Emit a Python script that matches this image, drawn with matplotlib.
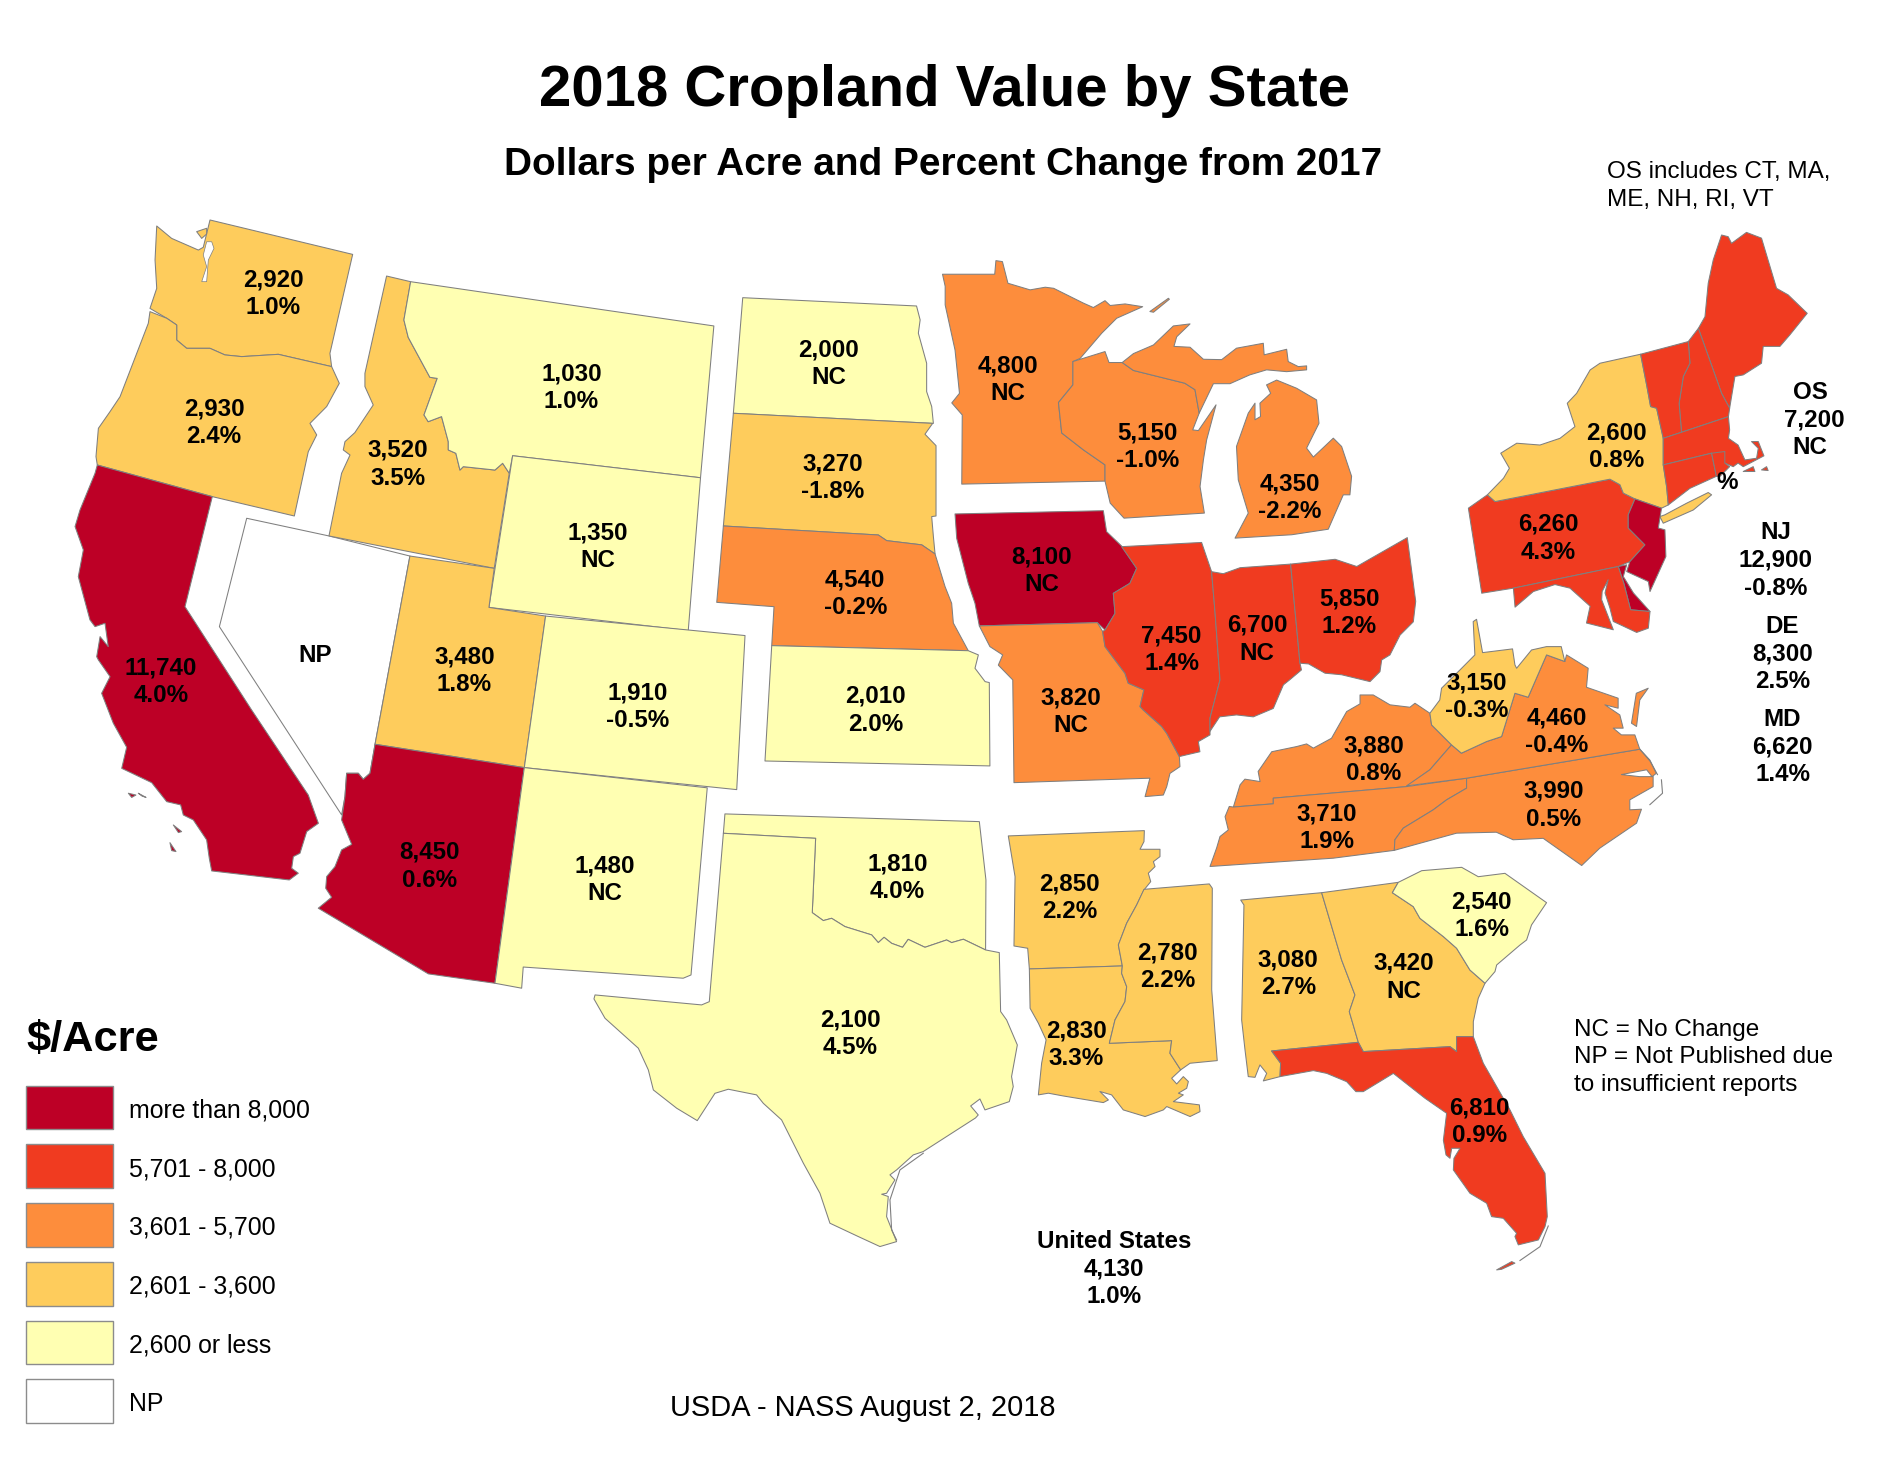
import numpy as np
import matplotlib
matplotlib.use("Agg")
import matplotlib.pyplot as plt
from matplotlib.patches import Polygon, Rectangle

plt.rcParams["font.family"] = ["Liberation Sans", "DejaVu Sans"]

# values
states = ["WA", "OR", "CA", "NV", "ID", "MT", "WY", "UT", "AZ", "CO", "NM", "ND", "SD", "NE",
          "KS", "OK", "TX", "MN", "IA", "MO", "AR", "LA", "WI", "IL", "MI", "IN", "OH", "KY",
          "TN", "MS", "AL", "GA", "FL", "SC", "NC", "VA", "WV", "PA", "NY", "NJ", "DE", "MD"]
values = [2920, 2930, 11740, None, 3520, 1030, 1350, 3480, 8450, 1910, 1480, 2000, 3270, 4540,
          2010, 1810, 2100, 4800, 8100, 3820, 2850, 2830, 5150, 7450, 4350, 6700, 5850, 3880,
          3710, 2780, 3080, 3420, 6810, 2540, 3990, 4460, 3150, 6260, 2600, 12900, 8300, 6620]
changes = ["1.0%", "2.4%", "4.0%", "", "3.5%", "1.0%", "NC", "1.8%", "0.6%", "-0.5%", "NC", "NC",
           "-1.8%", "-0.2%", "2.0%", "4.0%", "4.5%", "NC", "NC", "NC", "2.2%", "3.3%", "-1.0%",
           "1.4%", "-2.2%", "NC", "1.2%", "0.8%", "1.9%", "2.2%", "2.7%", "NC", "0.9%", "1.6%",
           "0.5%", "-0.4%", "-0.3%", "4.3%", "0.8%", "-0.8%", "2.5%", "1.4%"]
other_states = ["ME", "NH", "VT", "MA", "CT", "RI"]
other_value = 7200

bin_edges = [2600, 3600, 5700, 8000]
bin_colors = ["#ffffb2", "#fecc5c", "#fd8d3c", "#f03b20", "#bd0026"]
legend_labels = ["more than 8,000", "5,701 - 8,000", "3,601 - 5,700", "2,601 - 3,600", "2,600 or less", "NP"]
legend_colors = ["#bd0026", "#f03b20", "#fd8d3c", "#fecc5c", "#ffffb2", "white"]

# label centres on the map, image points (state: x, first line y, second line y)
label_pos = {
    "WA": (227, 231, 254), "OR": (178, 338, 361), "CA": (134, 553, 576), "NV": (262, 543, None),
    "ID": (331, 372, 396), "MT": (475, 309, 332), "WY": (497, 441, 464), "UT": (386, 544, 567),
    "AZ": (357, 706, 730), "CO": (530, 574, 597), "NM": (503, 718, 741), "ND": (689, 289, 312),
    "SD": (692, 384, 407), "NE": (711, 480, 503), "KS": (728, 577, 600), "OK": (746, 716, 739),
    "TX": (707, 846, 869), "MN": (838, 302, 325), "IA": (866, 461, 484), "MO": (890, 578, 601),
    "AR": (889, 733, 756), "LA": (895, 855, 878), "WI": (954, 358, 381), "IL": (974, 527, 550),
    "MI": (1072, 400, 423), "IN": (1045, 518, 541), "OH": (1122, 496, 519), "KY": (1142, 618, 641),
    "TN": (1103, 675, 698), "MS": (971, 790, 813), "AL": (1071, 796, 819), "GA": (1167, 799, 822),
    "FL": (1230, 919, 942), "SC": (1232, 748, 771), "NC": (1292, 656, 679), "VA": (1294, 595, 618),
    "WV": (1228, 566, 589), "PA": (1287, 434, 457), "NY": (1344, 358, 381),
}
side_pos = {"NJ": (1476, 441), "DE": (1482, 519), "MD": (1482, 596)}

# state outlines
outlines = {
    "WA": [[(130.3,187.9),(142.7,198.2),(164.9,207.9),(169,205.6),(174.6,182.9),(293.2,211.5),(274.3,293.8),(275.7,304.8),(231.4,294.6),(201,296.5),(187,295.1),(174.6,289.6),(155.2,289.6),(146.9,282.7),(146.9,270.2),(138.6,264.6),(124.7,256.4),(130.3,239.7),(128.9,216.2)],
           [(163.5,192.6),(171.8,189.8),(171.8,194.6),(167.7,198.2)]],
    "OR": [[(124.7,259.1),(138.6,264.6),(146.9,270.2),(146.9,282.7),(155.2,289.6),(174.6,289.6),(187,295.1),(201,296.5),(231.4,294.6),(275.7,304.8),(282.1,318.7),(271.6,338),(257.7,352),(263.3,361.6),(256.3,375.5),(244.7,429),(176.5,412.9),(80.9,386.6),(79.8,379.6),(81.8,356.1),(91.5,342.2),(99.8,329.8),(123.3,268.8)]],
    "CA": [[(80.9,386.6),(176.5,412.9),(153.8,504.4),(209.2,590.3),(256.3,661),(264.7,684.5),(255,691.4),(249.4,709.4),(243.9,712.2),(242.5,721.9),(248,726),(240.5,731.6),(176,724.1),(174,713.6),(171.8,698.3),(160.7,681.7),(152.4,677.6),(150.2,669.2),(138.6,666.5),(126.1,650.7),(101.2,638.8),(105.3,621.3),(94.2,601.3),(84.5,576.4),(91.5,562.6),(81.8,548.7),(80.4,546),(83.2,529.3),(90,537.6),(87.3,518.2),(79,521),(74.8,515.4),(65.1,479.4),(69.3,457.2),(62.4,437.8),(66.5,424),(79,393.5)],
           [(106.7,659.5),(113,661),(109.5,663)], [(115,659.5),(121.4,663),(118,661.8)],
           [(144.1,685.9),(151,691.4),(148.3,692.2)], [(141.3,700.6),(146.3,708),(142.7,707.2)]],
    "NV": [[(205.1,430.9),(273.5,445.6),(340.8,462.3),(311.8,618.8),(307.6,642.9),(302,647.9),(297.9,642.9),(288.2,642.9),(286.8,662.3),(284,677.5),(182.4,521)]],
    "ID": [[(321.4,229.5),(341.4,234.2),(335.8,266),(339.4,280.5),(357.4,313.7),(363.5,314.6),(352.5,345),(356,350.6),(367.1,346.4),(372.7,367.2),(372.7,374.1),(379,376.9),(382.4,390.8),(385.2,388),(411.5,390.8),(417.9,385.2),(423.4,393.5),(410.9,472.5),(273.5,445.6),(284,393.5),(291,378.3),(285.4,374.1),(286.8,367.2),(295,359.7),(310.3,336.7),(303.4,321.4),(303.4,310.4)]],
    "MT": [[(341.4,234.2),(593.5,271),(582.4,397.2),(426.2,378.9),(423.4,393.5),(417.9,385.2),(411.5,390.8),(385.2,388),(382.4,390.8),(379,376.9),(372.7,374.1),(372.7,367.2),(367.1,346.4),(356,350.6),(352.5,345),(363.5,314.6),(357.4,313.7),(339.4,280.5),(335.8,266)]],
    "WY": [[(426.2,378.9),(582.4,397.2),(572.2,524.3),(406.5,505)]],
    "UT": [[(340.8,462.3),(410.9,472.5),(406.5,505),(453.6,512.2),(435.9,638.2),(311.8,618.8)]],
    "CO": [[(453.6,512.2),(619.4,528.4),(612.5,656.5),(435.9,638.2)]],
    "AZ": [[(311.8,618.8),(435.9,638.2),(411.5,817.5),(356.1,809.7),(264.6,755.1),(275.7,746),(270.8,738.5),(271.6,728.8),(278.5,720.5),(284,706.6),(292.4,702),(284,681.7),(286.8,662.3),(288.2,642.9),(297.9,642.9),(302,647.9),(307.6,642.9)]],
    "NM": [[(435.9,638.2),(588,655),(574.5,810.6),(568,813.3),(435,804),(433.7,821.6),(411.5,817.5)]],
    "ND": [[(617.5,247.5),(762,254.4),(765,266),(763.5,277),(770.4,302),(770.4,325.6),(774.6,338),(776,352),(609.7,343.6)]],
    "SD": [[(609.7,343.6),(775.4,352),(769,361),(778.2,370.5),(778.2,429),(774.6,429.5),(776,446),(777.4,460.6),(766.3,453),(737.2,449.5),(730.2,444.8),(601.4,437.3)]],
    "NE": [[(601.4,437.3),(730.2,444.8),(737.2,449.5),(766.3,453),(777.4,460.6),(785.7,487.7),(791.2,501.6),(792.6,518),(805,541),(641.6,536.8),(643.5,504.4),(595.9,500.8)]],
    "KS": [[(641.6,536.8),(805,541),(813.4,544.5),(810.6,555.6),(819,566.7),(822.5,567.5),(823,636.8),(636,632.7)]],
    "OK": [[(602.7,676.7),(814.2,683.1),(819.7,731.6),(819.4,789.8),(800.9,780.9),(791.2,783.7),(787,781.5),(769,787.6),(755.1,781),(750.4,787.6),(741.3,784.3),(735,779.3),(730.2,783.7),(724.7,777.3),(702.5,770.4),(691.4,763.5),(684.5,765.4),(675.3,758.8),(678.1,697),(601.4,692.8)]],
    "TX": [[(601.4,692.8),(678.1,697),(675.3,758.8),(684.5,765.4),(691.4,763.5),(702.5,770.4),(724.7,777.3),(730.2,783.7),(735,779.3),(741.3,784.3),(750.4,787.6),(755.1,781),(769,787.6),(787,781.5),(791.2,783.7),(800.9,780.9),(819.4,789.8),(830.8,792),(831.9,841),(836.9,848),(845.8,868.8),(841,895.1),(842.4,903.4),(839.1,915.9),(818.9,922.8),(814.7,913.7),(807,919.5),(813.3,927),(811,929.5),(767.6,957.4),(759.3,960.2),(745.4,972.7),(739.9,976.8),(744,981),(737.1,992.1),(733,992.9),(738.5,994.8),(737.1,1011.5),(745.4,1032.3),(731.6,1036.4),(713.6,1028.1),(690,1017),(681.7,992.1),(667.9,967.1),(649.8,931.1),(634.6,917.3),(629,910.3),(605.5,905.6),(594.4,909),(579.7,931.7),(562.6,921.4),(543.2,906.2),(539,889.5),(530.7,871.5),(503,846.6),(493.8,830.5),(494.7,827.2),(583.3,835.5),(589.7,832.8)]],
    "MN": [[(783.6,228),(827,228),(828,216.7),(833.4,217.5),(838,235.5),(856.4,241),(869,238.8),(876,239.7),(900.7,252),(909,255.7),(918.7,250),(923,254),(935.4,252.7),(950,255),(928.4,264.6),(916,277),(898,298),(892,300.6),(892,320),(880,334.7),(882.7,360),(900.7,374),(918.7,386.5),(918.7,400),(799.6,402.5),(800,345),(791.3,335),(797.7,327),(794,291),(785.8,253.5),(785.8,238)]],
    "IA": [[(794,427.3),(917.3,424.6),(920,442),(932.5,454),(945,472.5),(939.4,485),(925.6,493.3),(927,510),(918.7,523.8),(912.3,517.7),(814.2,520.4),(810.6,501.6),(805,485),(795.4,447.6)]],
    "MO": [[(814.2,520.4),(912.3,517.7),(916.7,525),(918.7,537.6),(935.3,559.8),(938,568),(951,573.6),(947.8,587.5),(950.5,590.3),(965.8,604),(970,609.7),(980.5,629),(981,637.4),(972.7,643),(970,654),(967.2,661),(952,662.3),(956,647),(843,650.7),(842,565.3),(830,553),(833.6,544.5),(823,537.6)]],
    "AR": [[(838.3,695),(951.4,690.6),(951.1,699.7),(947.8,706.1),(964.4,706.1),(964.4,712.2),(958.9,716.4),(960.3,720.5),(954.7,726),(956.7,733),(951.1,739.9),(945,752.4),(936.7,767.6),(929.8,785.6),(933.1,803.1),(855.8,805.6),(854.4,788.4),(843,786.5),(843.9,728.8)]],
    "LA": [[(855.8,805.6),(933.1,803.1),(932.5,809.2),(936.7,820.3),(935.3,832.7),(927,848),(922.3,867.4),(974.1,865.2),(972.7,875.7),(981.6,889.5),(974.1,896.5),(978.3,901.2),(983.8,895.1),(988,899.2),(986.6,904.8),(979.7,908.9),(983.8,910.3),(975.5,915.9),(997.1,918.6),(997.7,924.2),(989.4,928.3),(970,920),(967.2,922.8),(952,928.3),(933.9,922.8),(924.2,910.3),(914.5,907.5),(921.5,914.5),(917.3,916.7),(884,911.2),(871.6,908.9),(863.3,910.3),(866,884),(869.7,864.6),(863.3,850.7),(856.4,838.3)]],
    "WI": [[(892,300.6),(918.7,292.3),(922,301.4),(933,301.4),(942.3,308),(985,318.6),(993.5,324),(997,343.5),(991.6,357.4),(996.3,358),(1011,336.6),(1003.2,365.7),(1000.5,382.3),(997.7,404.5),(1001.3,426.6),(934.5,430.8),(923,418.3),(918.7,400),(918.7,386.5),(900.7,374),(882.7,360),(880,334.7),(892,320)]],
    "IL": [[(932.5,454.5),(999,451),(1007.3,475.3),(1010,507),(1014.3,565.3),(1006,597),(1006,611),(996.3,616.6),(997.6,625),(980.5,629),(970,609.7),(965.8,604),(950.5,590.3),(947.8,587.5),(951,573.6),(938,568),(935.3,559.8),(918.7,537.6),(916.7,525),(918.7,523.8),(927,510),(925.6,493.3),(939.4,485),(945,472.5)]],
    "MI": [[(933,301.4),(942.3,294),(959,286.8),(975.5,271),(989.4,269.3),(978.3,280),(976,288),(989.4,288.7),(1000.5,298.7),(1015.7,299),(1028,289.5),(1050.3,285.4),(1051,295),(1069.7,290.4),(1071,300.6),(1079.4,304.8),(1086.3,304.2),(1086.3,307.5),(1069.7,309),(1053,307.5),(1039,311.7),(1022.6,319),(1008.8,319),(997,343.5),(993.5,324),(985,318.6),(942.3,308)],
           [(1061.4,316),(1078,322.8),(1094.6,332.5),(1096.6,351.9),(1086.3,372.6),(1091.9,380),(1108.5,364.3),(1115.4,371.2),(1123.7,396),(1122.3,411.4),(1116.8,411.4),(1104.3,440),(1073.9,444.6),(1026.8,447.4),(1037.8,426.6),(1029.5,399),(1028,371.2),(1037.8,343.5),(1043.4,335.2),(1043.4,349),(1048,346.3),(1047.5,335.2),(1056.4,327),(1053,320)],
           [(956,259),(971.4,248),(972.2,248.8),(959,259.6)]],
    "IN": [[(1007.3,475.3),(1017,477),(1031,472),(1073,469),(1080.8,551.4),(1082,557),(1072.5,565),(1067,569.4),(1058.6,589),(1042,596),(1028,594.4),(1014,596),(1006,608),(1006,597),(1014.3,565.3),(1010,507)]],
    "OH": [[(1073,469),(1110,465),(1128,471),(1170,447),(1177,500),(1175,517),(1164,528),(1155.6,544.5),(1148.7,548.7),(1147.3,558.4),(1139,566.7),(1115.4,561),(1101.6,559.7),(1088,552),(1080.8,551.4)]],
    "KY": [[(1025.4,671),(1031,652.5),(1035,647.8),(1047.6,649.8),(1046,641.4),(1057.3,625),(1078,620.7),(1086.3,618.5),(1091.9,622),(1107,613.8),(1119.6,591.6),(1130.7,585.2),(1130.7,577.8),(1141.7,577.8),(1155.6,586),(1172.2,588),(1176.4,584.7),(1188.8,593),(1190.2,602.7),(1206.8,619.3),(1188.8,640),(1169.4,654),(1058.6,663.6),(1058.6,668.3)]],
    "TN": [[(1025.4,671),(1058.6,668.3),(1058.6,663.6),(1169.4,654),(1219.3,647),(1219.3,655.3),(1202.7,665),(1191.6,673.3),(1166.7,688.5),(1159.7,698.2),(1159.2,707),(1108.5,713.5),(1006,720.4),(1011.5,705),(1014.3,695.5),(1021.2,690),(1018.5,679),(1022,670.5)]],
    "MS": [[(951.1,739.4),(1005.4,734.9),(1007.9,738.5),(1007.4,823),(1012,881.8),(989.4,884),(981.6,889.5),(972.7,875.7),(974.1,865.2),(922.3,867.4),(927,848),(935.3,832.7),(936.7,820.3),(932.5,809.2),(933.1,803.1),(929.8,785.6),(936.7,767.6),(945,752.4)]],
    "AL": [[(1031.5,748.3),(1098.8,742.2),(1115.4,798.1),(1126.5,827.2),(1121.8,841.1),(1129.3,866.6),(1057.2,873.8),(1064.7,884),(1064.2,895.1),(1050.3,898.7),(1053.1,892.4),(1047.5,885.4),(1043.4,895.7),(1037.8,895.1),(1035.1,873),(1032.3,848),(1034.2,752.4)]],
    "GA": [[(1098.8,742.2),(1162.5,733.6),(1157.6,742.2),(1175,753.8),(1180.5,763.5),(1200,778.7),(1211,788.4),(1222.1,806.5),(1234.6,817.5),(1229,830),(1224.9,849.4),(1224.9,861.9),(1211,861.9),(1211,874.3),(1205.5,870.2),(1133.4,874.3),(1129.3,866.6),(1121.8,841.1),(1126.5,827.2),(1115.4,798.1)]],
    "SC": [[(1162.5,733.6),(1182,723.9),(1215.2,721.1),(1229,728.9),(1251.2,726.1),(1285.8,750.5),(1273.3,769),(1269.2,781.5),(1263.7,785.7),(1244.3,802.3),(1242.9,807.8),(1234.6,817.5),(1222.1,806.5),(1211,788.4),(1200,778.7),(1180.5,763.5),(1175,753.8),(1157.6,742.2)]],
    "FL": [[(1057.2,873.8),(1129.3,866.6),(1133.4,874.3),(1205.5,870.2),(1211,874.3),(1211,861.9),(1224.9,861.9),(1233.2,884),(1244.3,903.4),(1255.4,922.8),(1266.4,945),(1284.5,975.5),(1286.4,1011.5),(1284.5,1019.8),(1279,1030.9),(1262.3,1035),(1259.5,1028.1),(1260.9,1025.4),(1249.8,1012.9),(1240.1,1011.5),(1236,1000.4),(1222.1,992.1),(1208.3,972.7),(1208.8,963),(1213.8,954.7),(1206.9,954.7),(1205.5,963),(1202.2,960.2),(1200,948),(1202.7,925.6),(1184.7,913.1),(1158.4,892.4),(1133.4,907.6),(1127.3,907.6),(1119.6,899.3),(1103,892.4),(1091.9,890.1),(1064.2,895.1),(1064.7,884)],
           [(1244.3,1055.8),(1256.8,1048.9),(1259.5,1050.2),(1248.4,1055.3)]],
    "NC": [[(1219.3,647),(1363.3,622.9),(1371.6,631.8),(1377,643),(1373.5,645.7),(1369,640),(1348,644),(1363,645.7),(1374.4,645.7),(1374.4,654),(1355,665),(1355,673.3),(1364.7,672.8),(1360.6,684.4),(1330,705.2),(1315,719.6),(1283,697),(1258,698.2),(1244,691.9),(1211,692.7),(1159.2,707),(1159.7,698.2),(1166.7,688.5),(1191.6,673.3),(1202.7,665),(1219.3,655.3)]],
    "VA": [[(1169.4,653.4),(1188.8,640),(1206.8,619.3),(1215,626.2),(1236,616.5),(1248.4,612.4),(1259.5,576.4),(1270.5,579.7),(1285.8,544.5),(1301,550),(1302.4,544.5),(1320.4,555.6),(1319,571.4),(1345.3,580.5),(1345.3,588.8),(1334.3,586),(1346.7,594.4),(1349.5,605.4),(1341.2,605.4),(1348,611),(1359.2,611),(1363.3,622.9),(1219.3,647)],
           [(1370.3,572.2),(1360.4,576.4),(1356.4,601.3),(1360.6,604),(1363.3,582)]],
    "WV": [[(1188.8,593),(1197,582),(1198.5,572.2),(1213.8,557),(1226.2,544.5),(1224.8,516.8),(1227.6,514.9),(1232.6,542.6),(1257.5,539.5),(1259.5,552.8),(1260.9,555.6),(1273.3,540.4),(1285.8,537.6),(1298,537.6),(1301,550),(1285.8,544.5),(1270.5,579.7),(1259.5,576.4),(1248.4,612.4),(1236,616.5),(1215,626.2),(1206.8,619.3),(1190.2,602.7)]],
    "PA": [[(1236.6,411.4),(1220.8,422.5),(1231.9,493.2),(1258.2,489),(1345.4,471),(1355,467),(1367.6,453),(1353.7,439),(1353.7,428),(1359.3,414.8),(1349.6,410),(1346.8,403),(1338.5,398.4),(1243,417)]],
    "NY": [[(1364,294.5),(1330.2,302),(1322,307.6),(1310.8,327),(1303,335.3),(1309.4,354.7),(1297,364.4),(1280.3,370),(1261,368.5),(1247.7,376.8),(1254.9,389.3),(1250,397.6),(1236.6,411.4),(1243,417),(1338.5,398.4),(1346.8,403),(1349.6,410),(1359.3,414.8),(1381.4,422.5),(1387,419.8),(1385.6,404.5),(1382.8,386.5),(1382.8,364.4),(1377.3,339.4),(1372.3,338),(1369,320)],
           [(1384.2,428),(1402.2,418.4),(1420.2,409.5),(1423,411.4),(1407.8,424),(1382.8,435),(1380,429.5)]],
    "NJ": [[(1359.3,414.8),(1381.4,422.5),(1378.7,439),(1384.2,440.5),(1385,462.7),(1371.8,491.8),(1370.4,483.5),(1352.4,475.2),(1355,467),(1367.6,453),(1353.7,439),(1353.7,428)]],
    "DE": [[(1345.4,471),(1352.4,469.6),(1349.6,479.3),(1358,493),(1371.8,508.4),(1355.7,507),(1350,484.9)]],
    "MD": [[(1258.2,489),(1345.4,471),(1350,484.9),(1355.7,507),(1371.8,508.4),(1370.4,522.3),(1360.7,525.8),(1341.3,516.7),(1338.5,505.6),(1334.4,493),(1337,482),(1332,491.8),(1331.6,498.7),(1341.3,523.6),(1319,518),(1322,504),(1305.3,489),(1292.8,486),(1274.8,491.8),(1259.6,504.8)]],
    "ME": [[(1431.3,195.4),(1436.8,196.8),(1439.6,202.3),(1452,193.2),(1464.5,198),(1477,239.7),(1486.7,245.2),(1502.5,260.5),(1488,278.5),(1479.8,288),(1465.9,288),(1464.5,302),(1449.3,311.7),(1442.4,313),(1438,339.4),(1431.3,327),(1412,273),(1417.5,263.3),(1420.2,235.5),(1424.4,216)]],
    "NH": [[(1412,273),(1403.6,284),(1405,302),(1399.5,313),(1396,335.3),(1398,359.4),(1437,346.4),(1438,339.4),(1431.3,327)]],
    "VT": [[(1364,294.5),(1403.6,284),(1405,302),(1399.5,313),(1396,335.3),(1398,359.4),(1382.8,364.4),(1377.3,339.4),(1372.3,338),(1369,320)]],
    "MA": [[(1382.8,364.4),(1398,359.4),(1437,346.4),(1438,357.4),(1437,364.4),(1445,370),(1450.7,382.4),(1460.4,381),(1461.8,372.7),(1456.2,367.1),(1461.8,367.1),(1466.5,379),(1449.3,388),(1445,385),(1441,388),(1434,385),(1423,376.8),(1382.8,386.5)],
           [(1449.3,392),(1457.6,388),(1459,392)], [(1464.5,390.7),(1468.7,388),(1470,391.2)]],
    "CT": [[(1382.8,386.5),(1423,376.8),(1427,396),(1405,406),(1387,419.8),(1385.6,404.5)]],
    "RI": [[(1423,376.8),(1434,375.4),(1434,385),(1438,388),(1430,396),(1427,396)]],
}
puget_sound = [(167.7,234.2),(171.8,234.2),(173.2,216.2),(177.9,206.5),(176,201),(171.8,201),(169,212),(171.8,221.7)]
coast_lines = [
    [(1381.3,648.4),(1382.2,659.5),(1371.7,669)],
    [(1363.3,622.9),(1372,633),(1378,644)],
    [(745.4,1030.9),(741.3,1022.6),(739.9,997.6),(748.2,972.7),(767.6,958.8)],
    [(1263.7,1048),(1280.3,1036.5),(1287.2,1019.3)],
]


def state_color(value):
    if value is None:
        return "white"
    return bin_colors[int(np.digitize(value, bin_edges, right=True))]


edge = "#7f7f7f"
fig = plt.figure(figsize=(18.86, 14.58), dpi=100)
ax = fig.add_axes([0, 0, 1, 1])
ax.set_xlim(0, 1568)
ax.set_ylim(1212.2, 0)
ax.axis("off")

colors = {s: state_color(v) for s, v in zip(states, values)}
colors["NY"] = "#fecc5c"  # 2,600 is shown in the next class on the original
for s in other_states:
    colors[s] = state_color(other_value)

for code, rings in outlines.items():
    for ring in rings:
        ax.add_patch(Polygon(ring, closed=True, facecolor=colors[code], edgecolor=edge,
                             linewidth=0.75, joinstyle="round"))
ax.add_patch(Polygon(puget_sound, closed=True, facecolor="white", edgecolor=edge, linewidth=0.5))
for line in coast_lines:
    ax.plot(*zip(*line), color=edge, linewidth=0.8)

label_size = 17.4
dy = 2  # text centres sit a little lower than matplotlib's va="center"
for s, v, c in zip(states, values, changes):
    if s in label_pos:
        x, y1, y2 = label_pos[s]
        ax.text(x, y1 + dy, "NP" if v is None else f"{v:,}", ha="center", va="center",
                fontsize=label_size, fontweight="bold")
        if y2 is not None:
            ax.text(x, y2 + dy, c, ha="center", va="center", fontsize=label_size, fontweight="bold")
    elif s in side_pos:
        x, y = side_pos[s]
        for i, t in enumerate([s, f"{v:,}", c]):
            ax.text(x, y + i * 23 + dy, t, ha="center", va="center", fontsize=label_size, fontweight="bold")

for i, t in enumerate(["OS", f"{other_value:,}", "NC"]):
    ax.text(1505 if i != 1 else 1508, 324 + i * 23 + dy, t, ha="center", va="center",
            fontsize=label_size, fontweight="bold")
for i, t in enumerate(["United States", "4,130", "1.0%"]):
    ax.text(926, 1030 + i * 23 + dy, t, ha="center", va="center", fontsize=label_size, fontweight="bold")
ax.text(1436, 399 + dy, "%", ha="center", va="center", fontsize=label_size, fontweight="bold")

ax.text(785.5, 76, "2018 Cropland Value by State", ha="center", va="center", fontsize=41.9, fontweight="bold")
ax.text(784, 137, "Dollars per Acre and Percent Change from 2017", ha="center", va="center",
        fontsize=27.9, fontweight="bold")
ax.text(1336, 141 + dy, "OS includes CT, MA,", ha="left", va="center", fontsize=17.5)
ax.text(1336, 164 + dy, "ME, NH, RI, VT", ha="left", va="center", fontsize=17.5)
for i, t in enumerate(["NC = No Change", "NP = Not Published due", "to insufficient reports"]):
    ax.text(1309, 854 + i * 23 + dy, t, ha="left", va="center", fontsize=17.5)
ax.text(717, 1169 + dy, "USDA - NASS August 2, 2018", ha="center", va="center", fontsize=20.9)

# legend
ax.text(22, 865, "$/Acre", ha="left", va="center", fontsize=31.2, fontweight="bold")
for i, (lab, col) in enumerate(zip(legend_labels, legend_colors)):
    top = 902.6 + i * 48.85
    ax.add_patch(Rectangle((21.6, top), 72.4, 36.3, facecolor=col, edgecolor="#8c8c8c", linewidth=1.0))
    ax.text(107, top + 18.5 + dy, lab, ha="left", va="center", fontsize=17.9)

plt.savefig("out.png", dpi=100)
plt.close()
